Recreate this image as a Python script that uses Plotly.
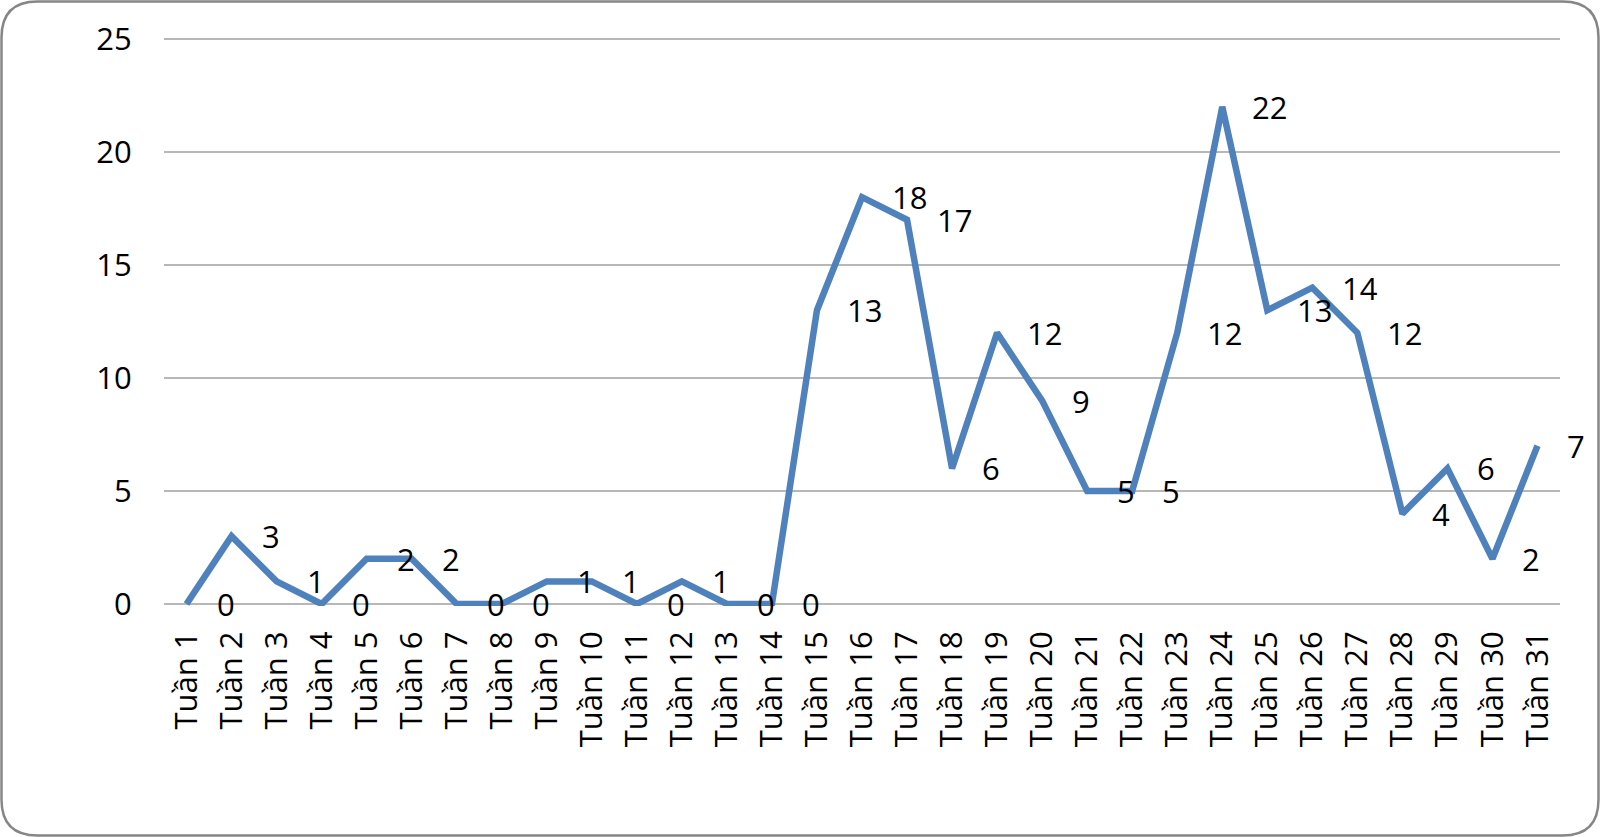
import plotly.graph_objects as go

weeks = [
    "Tuần 1", "Tuần 2", "Tuần 3", "Tuần 4", "Tuần 5", "Tuần 6", "Tuần 7", "Tuần 8",
    "Tuần 9", "Tuần 10", "Tuần 11", "Tuần 12", "Tuần 13", "Tuần 14", "Tuần 15", "Tuần 16",
    "Tuần 17", "Tuần 18", "Tuần 19", "Tuần 20", "Tuần 21", "Tuần 22", "Tuần 23", "Tuần 24",
    "Tuần 25", "Tuần 26", "Tuần 27", "Tuần 28", "Tuần 29", "Tuần 30", "Tuần 31",
]
cases = [0, 3, 1, 0, 2, 2, 0, 0, 1, 1, 0, 1, 0, 0, 13, 18,
         17, 6, 12, 9, 5, 5, 12, 22, 13, 14, 12, 4, 6, 2, 7]
y_ticks = [0, 5, 10, 15, 20, 25]

W, H = 1600, 837
# plot area is 2px taller on each side so the 0 and 25 gridlines are not clipped
L, R, T, B = 164, 40, 37, 231
Y_PAD = 0.0885
font = "Open Sans, Noto Sans, sans-serif"
blue = "#4F81BD"


def px_to_paper(px, py):
    pw = W - L - R
    ph = H - T - B
    return (px - L) / pw, (H - B - py) / ph


def rounded_border(x0, y0, x1, y1, rad):
    # path in paper units, corners as quadratic curves
    ax, ay = px_to_paper(x0, y0)
    bx, by = px_to_paper(x1, y1)
    rx = px_to_paper(L + rad, 0)[0]
    ry = px_to_paper(0, H - B - rad)[1]
    return (
        f"M {ax + rx},{ay} L {bx - rx},{ay} Q {bx},{ay} {bx},{ay - ry} "
        f"L {bx},{by + ry} Q {bx},{by} {bx - rx},{by} "
        f"L {ax + rx},{by} Q {ax},{by} {ax},{by + ry} "
        f"L {ax},{ay - ry} Q {ax},{ay} {ax + rx},{ay} Z"
    )


fig = go.Figure()
fig.add_trace(
    go.Scatter(
        x=weeks,
        y=cases,
        mode="lines",
        line=dict(color=blue, width=6.5),
        hoverinfo="x+y",
    )
)

# data labels to the right of each point (Excel "Right" position)
for wk, v in zip(weeks, cases):
    fig.add_annotation(
        x=wk, y=v, text=str(v),
        showarrow=False,
        xanchor="left", yanchor="middle",
        xshift=28, yshift=0,
        font=dict(family=font, size=31, color="#000000"),
    )

fig.add_shape(
    type="path",
    xref="paper", yref="paper",
    path=rounded_border(1.5, 1.5, W - 1.5, H - 1.5, 36),
    line=dict(color="#868686", width=2.5),
    layer="above",
)

fig.update_layout(
    width=W, height=H,
    margin=dict(l=L, r=R, t=T, b=B),
    paper_bgcolor="white",
    plot_bgcolor="white",
    showlegend=False,
    font=dict(family=font, size=31, color="#000000"),
    xaxis=dict(
        type="category",
        range=[-0.5, len(weeks) - 0.5],
        tickangle=-90,
        ticks="outside",
        ticklen=12,
        tickcolor="rgba(0,0,0,0)",
        showgrid=False,
        showline=False,
        zeroline=False,
        tickfont=dict(family=font, size=31),
    ),
    yaxis=dict(
        range=[-Y_PAD, 25 + Y_PAD],
        tickvals=y_ticks,
        ticks="outside",
        ticklen=25,
        tickcolor="rgba(0,0,0,0)",
        showgrid=True,
        gridcolor="#B7B7B7",
        gridwidth=1.8,
        zeroline=False,
        showline=False,
        tickfont=dict(family=font, size=31),
    ),
)

fig.write_html(
    "out.html",
    config={"displayModeBar": False},
    post_script="document.body.style.margin='0';document.body.style.overflow='hidden';",
)
